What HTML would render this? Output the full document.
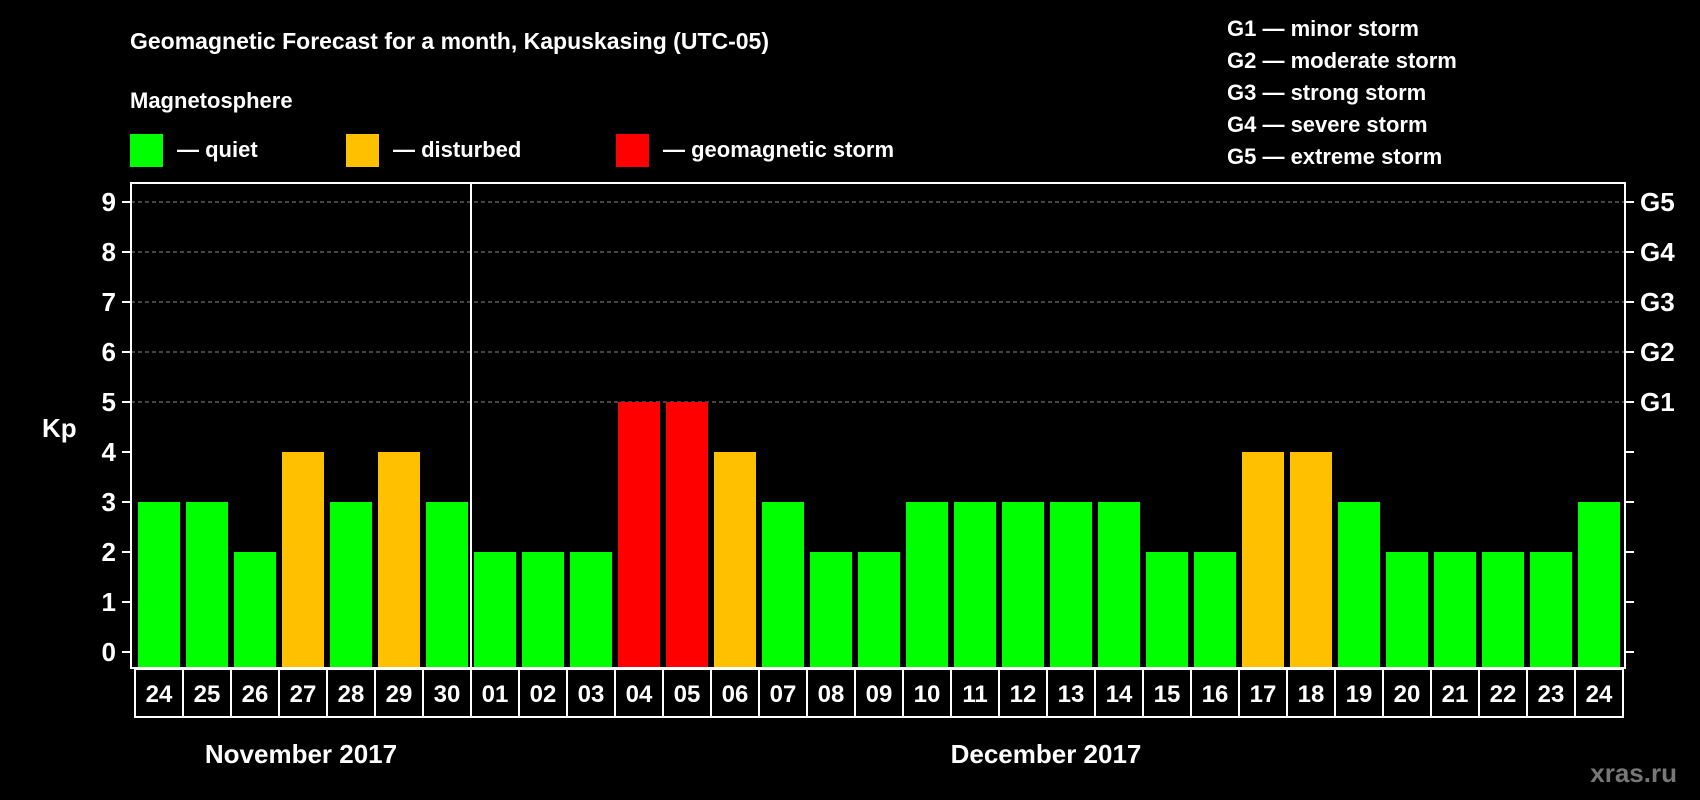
<!DOCTYPE html>
<html><head><meta charset="utf-8"><style>
body{margin:0;background:#000;width:1700px;height:800px;overflow:hidden}
svg{display:block;font-family:"Liberation Sans",sans-serif;font-weight:bold}
</style></head><body>
<svg id="c" width="1700" height="800" xmlns="http://www.w3.org/2000/svg">
<text x="130" y="49" fill="#fff" font-size="23">Geomagnetic Forecast for a month, Kapuskasing (UTC-05)</text>
<text x="130" y="108" fill="#fff" font-size="22">Magnetosphere</text>
<rect x="130" y="134" width="33" height="33" fill="#00ff00"/>
<text x="177" y="157" fill="#fff" font-size="22">— quiet</text>
<rect x="346" y="134" width="33" height="33" fill="#ffc000"/>
<text x="393" y="157" fill="#fff" font-size="22">— disturbed</text>
<rect x="616" y="134" width="33" height="33" fill="#ff0000"/>
<text x="663" y="157" fill="#fff" font-size="22">— geomagnetic storm</text>
<g fill="#fff" font-size="22">
<text x="1227" y="36">G1 — minor storm</text>
<text x="1227" y="68">G2 — moderate storm</text>
<text x="1227" y="100">G3 — strong storm</text>
<text x="1227" y="132">G4 — severe storm</text>
<text x="1227" y="164">G5 — extreme storm</text>
</g>
<text x="42" y="437" fill="#fff" font-size="26">Kp</text>
<text x="301" y="763" fill="#fff" font-size="26" text-anchor="middle">November 2017</text>
<text x="1046" y="763" fill="#fff" font-size="26" text-anchor="middle">December 2017</text>
<text x="1677" y="782" fill="#777" font-size="26" text-anchor="end">xras.ru</text>
<g id="plot"></g>
</svg>
<script>
const days=["24","25","26","27","28","29","30","01","02","03","04","05","06","07","08","09","10","11","12","13","14","15","16","17","18","19","20","21","22","23","24"];
const kp=[3,3,2,4,3,4,3,2,2,2,5,5,4,3,2,2,3,3,3,3,3,2,2,4,4,3,2,2,2,2,3];
const yTicks=[0,1,2,3,4,5,6,7,8,9];
const gLabels=["G1","G2","G3","G4","G5"];
const gLevels=[5,6,7,8,9];
const NS="http://www.w3.org/2000/svg";
const g=document.getElementById('plot');
const L=131,R=1625,T=183,B=668,x0=138,pitch=48,bw=42;
const y=v=>652-v*50;
const x=i=>x0+i*pitch;
function mk(t,a){const e=document.createElementNS(NS,t);for(const k in a)e.setAttribute(k,a[k]);g.appendChild(e);return e;}
yTicks.forEach(v=>{
  if(v>=5){const l=mk('line',{x1:L,x2:R,y1:y(v),y2:y(v),stroke:'#888','stroke-dasharray':'4,3','stroke-width':1});
  
  }
  const t1=mk('line',{x1:L-9,x2:L,y1:y(v),y2:y(v),stroke:'#fff','stroke-width':2});
  
  
  const t2=mk('line',{x1:R,x2:R+9,y1:y(v),y2:y(v),stroke:'#fff','stroke-width':2});
  
  
  const tx=mk('text',{x:L-15,y:y(v)+9,fill:'#fff','font-size':26,'text-anchor':'end'});
  tx.textContent=v;
  
  
});
gLabels.forEach((s,i)=>{
  const t=mk('text',{x:R+15,y:y(gLevels[i])+9,fill:'#fff','font-size':26});
  t.textContent=s;
  
  
});
kp.forEach((v,i)=>{
  const c=v>=5?'#ff0000':v>=4?'#ffc000':'#00ff00';
  const b=mk('rect',{x:x(i),y:y(v),width:bw,height:B-y(v),fill:c});
  
  
  const bx=mk('rect',{x:x(i)-3,y:B+1,width:pitch,height:48,fill:'none',stroke:'#fff','stroke-width':2});
  
  
  const t=mk('text',{x:x(i)+bw/2,y:B+34,fill:'#fff','font-size':24,'text-anchor':'middle'});
  t.textContent=days[i];
  
  
});
const fr=mk('rect',{x:L,y:T,width:R-L,height:B-T,fill:'none',stroke:'#fff','stroke-width':2});


const sp=mk('line',{x1:x(7)-3,x2:x(7)-3,y1:T,y2:B,stroke:'#fff','stroke-width':2});


</script>
</body></html>
